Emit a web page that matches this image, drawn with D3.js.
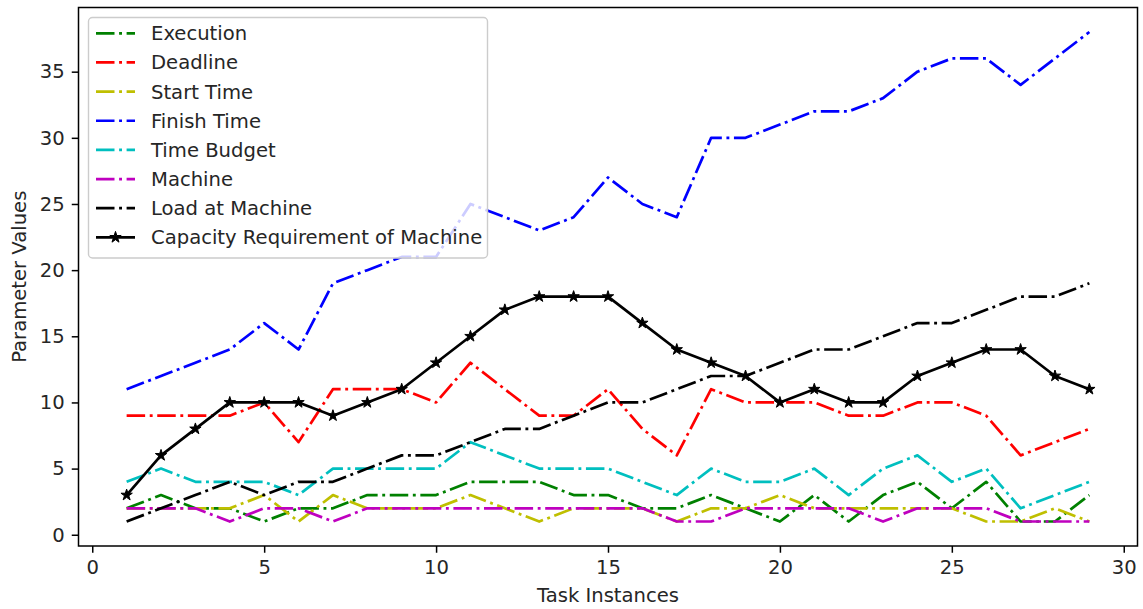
<!DOCTYPE html>
<html>
<head>
<meta charset="utf-8">
<script src="https://cdn.jsdelivr.net/npm/d3@7"></script>
<style>
  body { margin: 0; background: #fff; }
  svg text { font-family: "DejaVu Sans", sans-serif; }
</style>
</head>
<body>
<svg id="chart" width="1143" height="609"></svg>
<script>
const taskInstances = d3.range(1, 30);
const execution   = [2,3,2,2,1,2,2,3,3,3,4,4,4,3,3,2,2,3,2,1,3,1,3,4,2,4,1,1,3];
const deadline    = [9,9,9,9,10,7,11,11,11,10,13,11,9,9,11,8,6,11,10,10,10,9,9,10,10,9,6,7,8];
const startTime   = [2,2,2,2,3,1,3,2,2,2,3,2,1,2,2,2,1,2,2,3,2,2,2,2,2,1,1,2,1];
const finishTime  = [11,12,13,14,16,14,19,20,21,21,25,24,23,24,27,25,24,30,30,31,32,32,33,35,36,36,34,36,38];
const timeBudget  = [4,5,4,4,4,3,5,5,5,5,7,6,5,5,5,4,3,5,4,4,5,3,5,6,4,5,2,3,4];
const machine     = [2,2,2,1,2,2,1,2,2,2,2,2,2,2,2,2,1,1,2,2,2,2,1,2,2,2,1,1,1];
const loadAtMachine = [1,2,3,4,3,4,4,5,6,6,7,8,8,9,10,10,11,12,12,13,14,14,15,16,16,17,18,18,19];
const capacityReq = [3,6,8,10,10,10,9,10,11,13,15,17,18,18,18,16,14,13,12,10,11,10,10,12,13,14,14,12,11];

const xTicks = [0,5,10,15,20,25,30];
const yTicks = [0,5,10,15,20,25,30,35];

const seriesNames = ["Execution","Deadline","Start Time","Finish Time","Time Budget","Machine","Load at Machine","Capacity Requirement of Machine"];
const seriesColors = ["#008000","#ff0000","#bfbf00","#0000ff","#00bfbf","#bf00bf","#000000","#000000"];
const seriesValues = [execution, deadline, startTime, finishTime, timeBudget, machine, loadAtMachine, capacityReq];
const seriesStar = [false,false,false,false,false,false,false,true];

const svg = d3.select("#chart");
const L = 78.5, R = 1137.5, T = 7.5, B = 546;
const x = d3.scaleLinear().domain([-0.4, 30.4]).range([L, R]);
const y = d3.scaleLinear().domain([-0.85, 39.85]).range([B, T]);

const dash = "18.5,4.6,2.9,4.6";
const lw = 2.7;
const fontSize = 19.6;

const line = d3.line().x((d,i) => x(taskInstances[i])).y(d => y(d));
const star = d3.symbol().type(d3.symbolStar).size(40);

const plot = svg.append("g");
seriesValues.forEach((vals, k) => {
  plot.append("path")
    .datum(vals)
    .attr("d", line)
    .attr("fill", "none")
    .attr("stroke", seriesColors[k])
    .attr("stroke-width", lw)
    .attr("stroke-linejoin", "round")
    .attr("stroke-dasharray", seriesStar[k] ? null : dash);
  if (seriesStar[k]) {
    plot.selectAll(null).data(vals).enter().append("path")
      .attr("d", star)
      .attr("transform", (d,i) => `translate(${x(taskInstances[i])},${y(d)})`)
      .attr("fill", "#000")
      .attr("stroke", "#000")
      .attr("stroke-width", 1);
  }
});

svg.append("rect")
  .attr("x", L).attr("y", T).attr("width", R - L).attr("height", B - T)
  .attr("fill", "none").attr("stroke", "#000").attr("stroke-width", 1.5);

const xAxis = svg.append("g").attr("transform", `translate(0,${B})`)
  .call(d3.axisBottom(x).tickValues(xTicks).tickSize(6.75).tickPadding(7).tickFormat(d3.format("d")));
const yAxis = svg.append("g").attr("transform", `translate(${L},0)`)
  .call(d3.axisLeft(y).tickValues(yTicks).tickSize(6.75).tickPadding(7).tickFormat(d3.format("d")));
[xAxis, yAxis].forEach(a => {
  a.select(".domain").remove();
  a.selectAll(".tick line").attr("stroke", "#000").attr("stroke-width", 1.5);
  a.selectAll(".tick text").attr("fill", "#262626").style("font-size", fontSize + "px").style("font-family", "DejaVu Sans");
});

svg.append("text")
  .attr("x", (L + R) / 2).attr("y", 602)
  .attr("text-anchor", "middle")
  .attr("fill", "#262626")
  .style("font-size", fontSize + "px")
  .text("Task Instances");
svg.append("text")
  .attr("transform", `translate(26,${(T + B) / 2}) rotate(-90)`)
  .attr("text-anchor", "middle")
  .attr("fill", "#262626")
  .style("font-size", fontSize + "px")
  .text("Parameter Values");

const lg = svg.append("g");
lg.append("rect")
  .attr("x", 88.5).attr("y", 17.5).attr("width", 399).attr("height", 240.5)
  .attr("rx", 4).attr("ry", 4)
  .attr("fill", "#fff").attr("fill-opacity", 0.8)
  .attr("stroke", "#cccccc").attr("stroke-width", 1.4);
const rowY0 = 33.3, rowDy = 29.15;
seriesNames.forEach((name, k) => {
  const cy = rowY0 + k * rowDy;
  lg.append("line")
    .attr("x1", 96).attr("x2", 135).attr("y1", cy).attr("y2", cy)
    .attr("stroke", seriesColors[k]).attr("stroke-width", lw)
    .attr("stroke-dasharray", seriesStar[k] ? null : dash);
  if (seriesStar[k]) {
    lg.append("path").attr("d", star)
      .attr("transform", `translate(115.5,${cy})`)
      .attr("fill", "#000").attr("stroke", "#000").attr("stroke-width", 1);
  }
  lg.append("text")
    .attr("x", 151).attr("y", cy + 7)
    .attr("fill", "#262626")
    .style("font-size", fontSize + "px")
    .text(name);
});
</script>
</body>
</html>
